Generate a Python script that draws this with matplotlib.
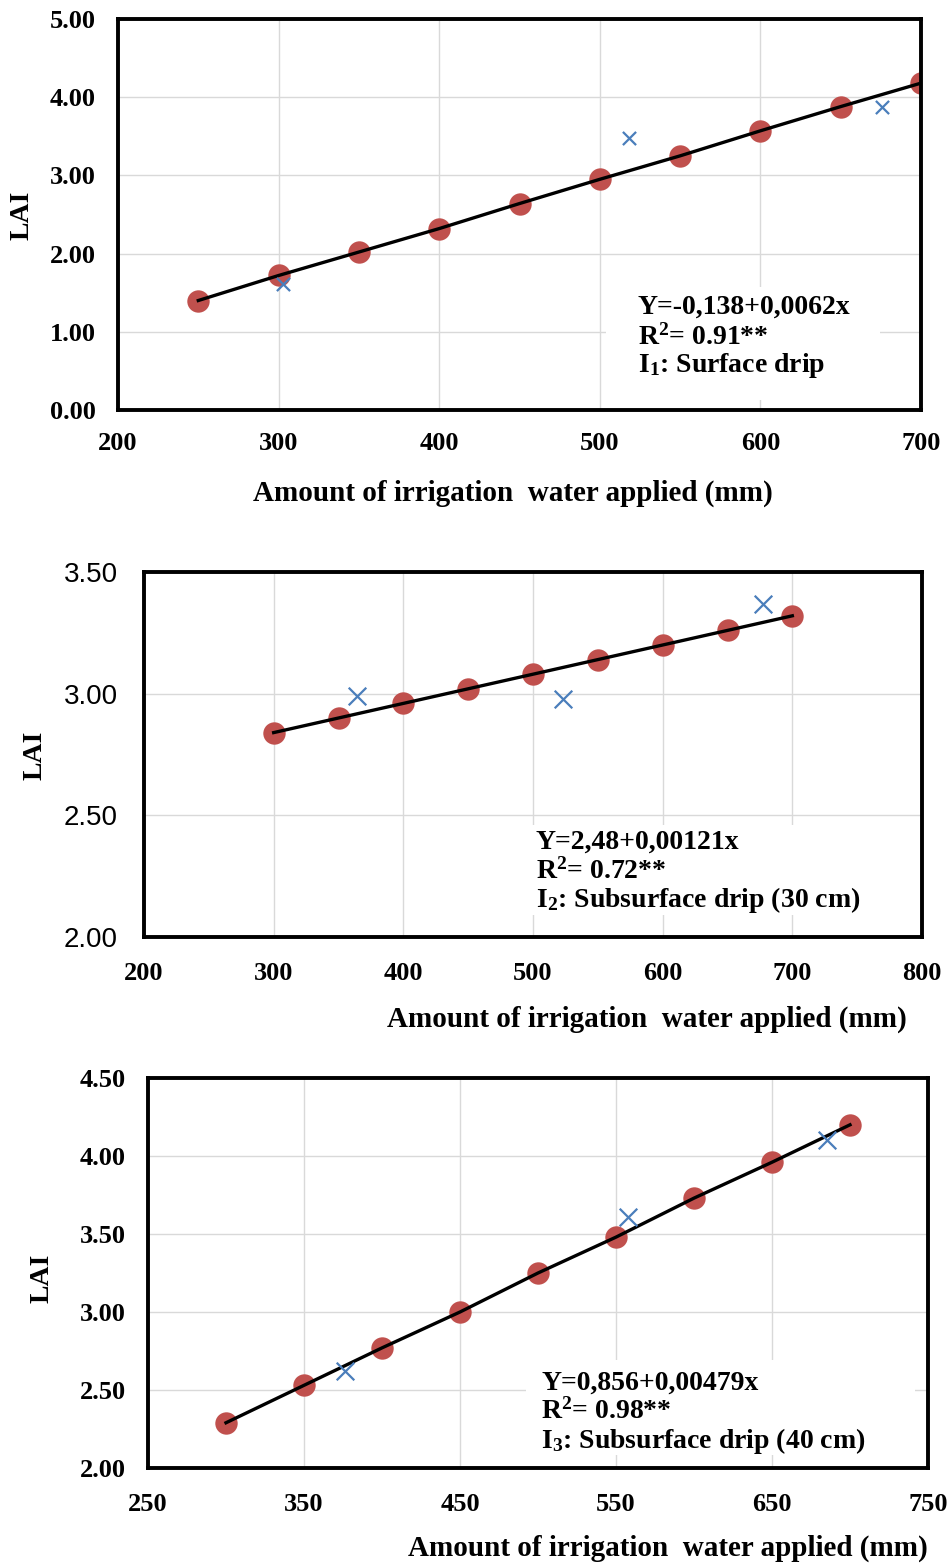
import matplotlib
matplotlib.use('Agg')
import matplotlib.pyplot as plt
from matplotlib.patches import Rectangle

plt.rcParams['mathtext.fontset'] = 'custom'
plt.rcParams['mathtext.rm'] = 'Liberation Serif:bold'
plt.rcParams['mathtext.it'] = 'Liberation Serif:bold'
plt.rcParams['mathtext.bf'] = 'Liberation Serif:bold'

# ── data ──────────────────────────────────────────────────────────────────
# I1: surface drip
x1_fit = [250, 300, 350, 400, 450, 500, 550, 600, 650, 700]
y1_fit = [1.40, 1.72, 2.02, 2.32, 2.64, 2.95, 3.25, 3.57, 3.88, 4.18]
x1_obs = [303, 518, 676]
y1_obs = [1.61, 3.48, 3.87]

# I2: subsurface drip 30 cm
x2_fit = [300, 350, 400, 450, 500, 550, 600, 650, 700]
y2_fit = [2.84, 2.90, 2.96, 3.02, 3.08, 3.14, 3.20, 3.26, 3.32]
x2_obs = [364, 523, 677]
y2_obs = [2.99, 2.98, 3.37]

# I3: subsurface drip 40 cm
x3_fit = [300, 350, 400, 450, 500, 550, 600, 650, 700]
y3_fit = [2.29, 2.53, 2.77, 3.00, 3.25, 3.48, 3.73, 3.96, 4.20]
x3_obs = [376, 558, 685]
y3_obs = [2.62, 3.61, 4.10]

labels1 = ['Y=-0,138+0,0062x', 'R$^2$= 0.91**', 'I$_1$: Surface drip']
labels2 = ['Y=2,48+0,00121x', 'R$^2$= 0.72**', 'I$_2$: Subsurface drip (30 cm)']
labels3 = ['Y=0,856+0,00479x', 'R$^2$= 0.98**', 'I$_3$: Subsurface drip (40 cm)']
XLABEL = 'Amount of irrigation  water applied (mm)'

RED = '#C0504D'
BLUE = '#4A7EBB'
W, H = 951, 1566
SERIF = 'Liberation Serif'
TICK_FS = 19

fig = plt.figure(figsize=(W / 100, H / 100), dpi=100)


def fx(px):
    return px / W


def fy(py):
    return 1 - py / H


def px_axes(l, t, r, b):
    return fig.add_axes([l / W, 1 - b / H, (r - l) / W, (b - t) / H])


def draw(ax, xf, yf, xo, yo, xlim, ylim, xticks, yticks, ms_x, xpad, ypad):
    ax.plot(xf, yf, color='black', lw=2.4, zorder=3)
    ax.scatter(xf, yf, s=260, color=RED, zorder=2, linewidths=0)
    ax.scatter(xo, yo, marker='x', s=ms_x, color=BLUE, linewidths=1.6, zorder=4)
    ax.set_xlim(*xlim)
    ax.set_ylim(*ylim)
    ax.set_xticks(xticks)
    ax.set_yticks(yticks)
    ax.set_yticklabels(['{:.2f}'.format(v) for v in yticks])
    ax.grid(True, color='#D9D9D9', lw=1)
    ax.set_axisbelow(True)
    for s in ax.spines.values():
        s.set_linewidth(2.8)
    ax.tick_params(axis='x', length=0, pad=xpad)
    ax.tick_params(axis='y', length=0, pad=ypad)
    for lab in ax.get_xticklabels():
        lab.set_fontfamily(SERIF)
        lab.set_fontweight('bold')
        lab.set_fontsize(TICK_FS)


def eq_box(box, x0, ys, lines):
    l, t, r, b = box
    fig.add_artist(Rectangle((fx(l), fy(b)), (r - l) / W, (b - t) / H,
                             transform=fig.transFigure, facecolor='white',
                             edgecolor='none', zorder=1))
    for y, line in zip(ys, lines):
        fig.text(fx(x0), fy(y), line, family=SERIF, weight='bold', fontsize=20,
                 va='center', ha='left', zorder=2)


def bold_yticks(ax):
    for lab in ax.get_yticklabels():
        lab.set_fontfamily(SERIF)
        lab.set_fontweight('bold')
        lab.set_fontsize(TICK_FS)


# panel 1
ax1 = px_axes(118, 19, 921, 410)
draw(ax1, x1_fit, y1_fit, x1_obs, y1_obs, (200, 700), (0, 5),
     [200, 300, 400, 500, 600, 700], [0, 1, 2, 3, 4, 5], 90, 16, 16)
bold_yticks(ax1)
eq_box((606, 287, 880, 400), 638, [307, 337, 366], labels1)
fig.text(fx(513), fy(493), XLABEL, family=SERIF, weight='bold', fontsize=21,
         ha='center', va='center')
fig.text(fx(22), fy(215), 'LAI', family=SERIF, weight='bold', fontsize=20,
         rotation=90, ha='center', va='center')

# panel 2
ax2 = px_axes(144, 572, 922, 937)
draw(ax2, x2_fit, y2_fit, x2_obs, y2_obs, (200, 800), (2.0, 3.5),
     [200, 300, 400, 500, 600, 700, 800], [2.0, 2.5, 3.0, 3.5], 160, 18, 19)
for lab in ax2.get_yticklabels():
    lab.set_fontfamily('Liberation Sans')
    lab.set_fontsize(20)
eq_box((522, 825, 870, 915), 536, [842, 871, 900], labels2)
fig.text(fx(647), fy(1019), XLABEL, family=SERIF, weight='bold', fontsize=21,
         ha='center', va='center')
fig.text(fx(35), fy(755), 'LAI', family=SERIF, weight='bold', fontsize=20,
         rotation=90, ha='center', va='center')

# panel 3
ax3 = px_axes(148, 1078, 928, 1468)
draw(ax3, x3_fit, y3_fit, x3_obs, y3_obs, (250, 750), (2.0, 4.5),
     [250, 350, 450, 550, 650, 750], [2.0, 2.5, 3.0, 3.5, 4.0, 4.5], 160, 18, 16)
bold_yticks(ax3)
eq_box((526, 1360, 915, 1455), 541, [1383, 1411, 1441], labels3)
fig.text(fx(668), fy(1548), XLABEL, family=SERIF, weight='bold', fontsize=21,
         ha='center', va='center')
fig.text(fx(42), fy(1278), 'LAI', family=SERIF, weight='bold', fontsize=20,
         rotation=90, ha='center', va='center')

fig.savefig('out.png', dpi=100)
